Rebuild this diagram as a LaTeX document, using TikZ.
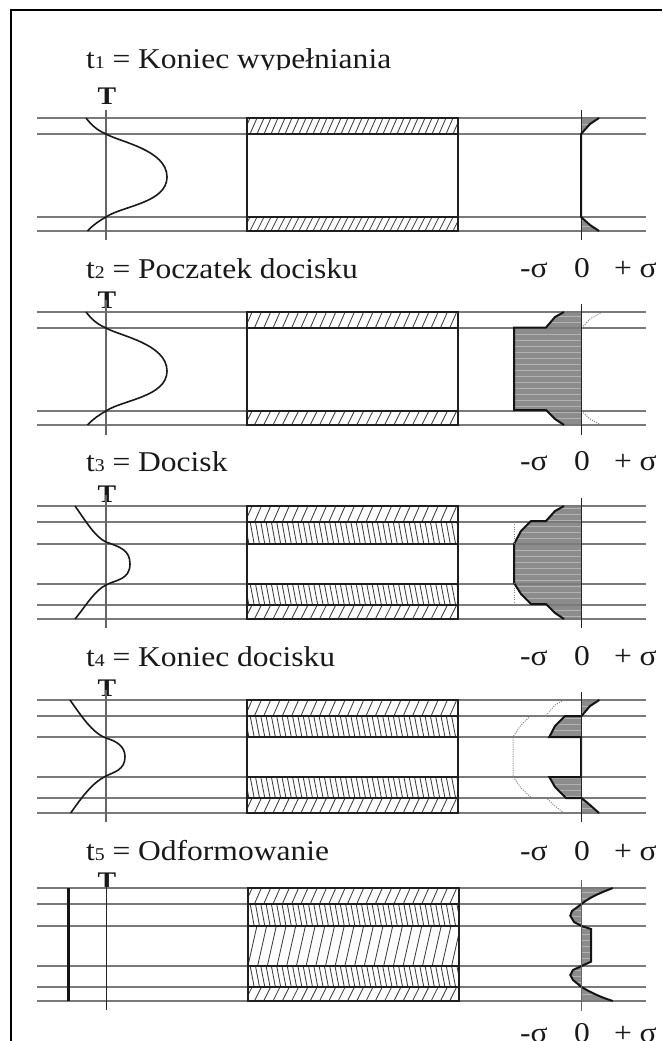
\documentclass[tikz,border=0pt]{standalone}
\usepackage{fontspec}
\setmainfont[FakeStretch=1.1]{Liberation Serif}
\tikzset{
  every node/.style={inner sep=0pt,outer sep=0pt,anchor=base west,text=black!90},
  title/.style={font=\fontsize{21.5}{25}\selectfont},
  axislabel/.style={font=\fontsize{21.5}{25}\selectfont},
  tlabel/.style={anchor=base,font=\fontsize{19}{20}\selectfont\bfseries},
  guide/.style={draw=black!52,line width=1.1pt},
  axisline/.style={draw=black!60,line width=0.85pt},
  profile/.style={draw=black!90,line width=1.2pt},
  hotline/.style={draw=black!92,line width=1.5pt},
  edge/.style={draw=black!88,line width=1.5pt},
  hatchline/.style={draw=black!75,line width=0.65pt},
  stressbase/.style={fill=black!45},
  stressline/.style={draw=black!30,line width=0.5pt},
  ghost/.style={draw=black!50,line width=0.75pt,densely dotted},
}
\newcommand{\tsub}[1]{{\fontsize{13.5}{14}\selectfont #1}}
% x-left, y-top, x-right, y-bottom, spacing, shift
\newcommand{\hatchband}[6]{%
  \begin{scope}
    \clip (#1,#2) rectangle (#3,#4);
    \pgfmathsetmacro{\hxb}{180+#5}
    \foreach \hx in {180,\hxb,...,520}
      \draw[hatchline] (\hx,#4) -- ++(#6,#2-#4);
  \end{scope}}
% fills a closed path with horizontal stress lines
\newcommand{\stressfill}[1]{%
  \begin{scope}
    \clip #1;
    \fill[stressbase] (490,100) rectangle (640,1030);
    \foreach \sy in {100.5,106.5,...,1030}
      \draw[stressline] (490,\sy) -- (640,\sy);
  \end{scope}}
\newcommand{\guides}[1]{%
  \foreach \gy in {#1} \draw[guide] (37,\gy) -- (646,\gy);}
\newcommand{\bandbox}[3]{% x-left, x-right; list of y's
  \foreach \by in {#3} \draw[edge] (#1,\by) -- (#2,\by);}
\begin{document}
\begin{tikzpicture}[x=0.75pt,y=-0.75pt]
\useasboundingbox (0,0) rectangle (662,1041);
\clip (0,0) rectangle (662,1041);
% frame
\draw[black,line width=1.6pt] (662,10) -- (11,10) -- (11,1041);

% ---------- titles
\node[title] (t1) at (86,69) {t\tsub{1} = Koniec wypełniania};
\fill[white] (80,70.5) rectangle (400,84);
\node[title] (t2) at (86,278) {t\tsub{2} = Poczatek docisku};
\node[title] (t3) at (86,471) {t\tsub{3} = Docisk};
\node[title] (t4) at (86,666) {t\tsub{4} = Koniec docisku};
\node[title] (t5) at (86,860) {t\tsub{5} = Odformowanie};
% ---------- sigma scales
\foreach \sigy/\nm in {277/a,470/b,665/c,860/d,1042/e}{
  \node[axislabel] (minus\nm) at (520,\sigy) {-σ};
  \node[axislabel] (zero\nm) at (574,\sigy) {0};
  \node[axislabel] (plus\nm) at (614,\sigy) {+ σ};
}
% ---------- T labels
\node[tlabel] (T1) at (107,105) {T};
\node[tlabel] (T2) at (107,308) {T};
\node[tlabel] (T3) at (107,502) {T};
\node[tlabel] (T4) at (107,696) {T};
\node[tlabel] (T5) at (107,889) {T};

% ---------- panel 1
\stressfill{(581.5,118) -- (599,118) -- (590,125) -- (581.5,134) -- cycle}
\stressfill{(581.5,217) -- (590,225) -- (599,231) -- (581.5,231) -- cycle}
\guides{118,134,217,231}
\draw[axisline] (106,110) -- (106,240);
\draw[axisline,draw=black!85] (581.5,110) -- (581.5,240);
\hatchband{247}{118}{458}{134}{7}{7}
\hatchband{247}{217}{458}{231}{7}{7}
\draw[edge] (247,118) rectangle (458,231);
\bandbox{247}{458}{134,217}
\draw[profile] (86,118) .. controls (93,127) and (99,131) .. (106,134) .. controls (120,142) and (167,150) .. (167,177) .. controls (167,203) and (122,206) .. (106,217) .. controls (99,221) and (93,225) .. (87.5,231);
\draw[hotline] (599,118) -- (590,124) -- (581,134) -- (581,217) -- (590,225) -- (599,231);

% ---------- panel 2
\stressfill{(581.5,312) -- (564,312) -- (555,317) -- (546,327.5) -- (514,327.5) -- (514,410) -- (546,410) -- (555,419) -- (564,425) -- (581.5,425) -- cycle}
\guides{312,328,411,425}
\draw[axisline] (106,300) -- (106,435);
\hatchband{247}{312}{458}{328}{9.3}{7}
\hatchband{247}{411}{458}{425}{9.3}{7}
\draw[edge] (247,312) rectangle (458,425);
\bandbox{247}{458}{328,411}
\draw[profile] (86,312) .. controls (93,321) and (99,325) .. (106,328) .. controls (120,336) and (167,344) .. (167,371) .. controls (167,397) and (122,400) .. (106,411) .. controls (99,415) and (93,419) .. (87.5,425);
\draw[hotline] (564,312) -- (555,317) -- (546,327.5) -- (514,327.5) -- (514,410) -- (546,410) -- (555,419) -- (564,425);
\draw[ghost] (581.5,328) -- (590,319) -- (601,313);
\draw[ghost] (581.5,411) -- (590,419) -- (601,425);
\draw[axisline,draw=black!85] (581.5,304) -- (581.5,435);

% ---------- panel 3
\stressfill{(581.5,506) -- (564,506) -- (555,511) -- (546,521) -- (531,521) -- (521,531) -- (514,544) -- (514,583) -- (521,594) -- (531,604) -- (546,604) -- (555,613) -- (564,619) -- (581.5,619) -- cycle}
\guides{506,522,544,584,605,619}
\draw[axisline] (106,495) -- (106,628);
\hatchband{247}{506}{458}{522}{9.3}{7}
\hatchband{247}{605}{458}{619}{9.3}{7}
\hatchband{247}{522}{458}{544}{5.3}{-4}
\hatchband{247}{584}{458}{605}{5.3}{-4}
\draw[edge] (247,506) rectangle (458,619);
\bandbox{247}{458}{522,544,584,605}
\draw[profile] (75,506) .. controls (85,520) and (95,537) .. (106,542) .. controls (120,547) and (130,550) .. (130,564) .. controls (130,580) and (115,580) .. (106,585) .. controls (95,590) and (85,607) .. (75,619);
\draw[hotline] (564,506) -- (555,511) -- (546,521) -- (531,521) -- (521,531) -- (514,544) -- (514,583) -- (521,594) -- (531,604) -- (546,604) -- (555,613) -- (564,619);
\draw[ghost] (514,522) -- (514,544);
\draw[ghost] (514,583) -- (514,604);
\draw[axisline,draw=black!85] (581.5,498) -- (581.5,628);

% ---------- panel 4
\stressfill{(581.5,700) -- (599.3,700) -- (590,707) -- (581.5,716) -- cycle}
\stressfill{(581.5,716) -- (565,716) -- (555,726) -- (549.3,737) -- (581.5,737) -- cycle}
\stressfill{(549.3,777) -- (581.5,777) -- (581.5,798) -- (566,798) -- (555,787) -- cycle}
\stressfill{(581.5,798) -- (590,805) -- (599,813) -- (581.5,813) -- cycle}
\guides{700,716,737,777,798,813}
\draw[axisline] (106,690) -- (106,822);
\hatchband{247}{700}{458}{716}{9.3}{7}
\hatchband{247}{798}{458}{813}{9.3}{7}
\hatchband{247}{716}{458}{737}{5.3}{-4}
\hatchband{247}{777}{458}{798}{5.3}{-4}
\draw[edge] (247,700) rectangle (458,813);
\bandbox{247}{458}{716,737,777,798}
\draw[profile] (70,700) .. controls (80,714) and (92,733) .. (106,738) .. controls (116,741) and (125,746) .. (125,756.7) .. controls (125,770) and (114,772) .. (106,776) .. controls (92,783) and (82,797) .. (70.7,813);
\draw[ghost] (564,700) -- (555,705) -- (546,715.5) -- (531,715.5) -- (521,725) -- (513,737) -- (513,776.5) -- (521,788) -- (531,797.5) -- (546,797.5) -- (555,806) -- (564,813);
\draw[hotline] (599.3,700) -- (590,706) -- (581.5,716) -- (565,716) -- (555,726) -- (549.3,737) -- (581,737) -- (581,777) -- (549.3,777) -- (555,787) -- (566,798) -- (581.5,798) -- (590,805) -- (599,813);
\draw[axisline,draw=black!85] (581.5,692) -- (581.5,822);

% ---------- panel 5
\stressfill{(581.5,888) -- (612.7,888) .. controls (600,893) and (590,897) .. (581.5,904) -- (572,911) -- (570.3,915.7) -- (574,922) -- (581.5,926) -- (591,929) -- (591,961.7) -- (581.5,966) -- (573,970) -- (570.3,975) -- (573,980) -- (581.5,987) .. controls (590,992) and (600,997) .. (612.7,1001) -- (581.5,1001) -- cycle}
\guides{888,904,926,966,987,1001}
\draw[axisline,draw=black!85] (106.5,885) -- (106.5,1010);
\draw[hotline,line width=1.7pt] (68.5,888) -- (68.5,1001);
\hatchband{247.5}{888}{459}{904}{9.3}{7}
\hatchband{247.5}{987}{459}{1001}{9.3}{7}
\hatchband{247.5}{904}{459}{926}{5.3}{-4}
\hatchband{247.5}{966}{459}{987}{5.3}{-4}
\hatchband{247.5}{926}{459}{966}{9.7}{9}
\draw[edge] (247.5,888) rectangle (459,1001);
\bandbox{247.5}{459}{904,926,966,987}
\draw[hotline] (612.7,888) .. controls (600,893) and (590,897) .. (581.5,904) -- (572,911) -- (570.3,915.7) -- (574,922) -- (581.5,926) -- (591,929) -- (591,961.7) -- (581.5,966) -- (573,970) -- (570.3,975) -- (573,980) -- (581.5,987) .. controls (590,992) and (600,997) .. (612.7,1001);
\draw[axisline] (581.5,880) -- (581.5,1011);
\end{tikzpicture}
\end{document}
